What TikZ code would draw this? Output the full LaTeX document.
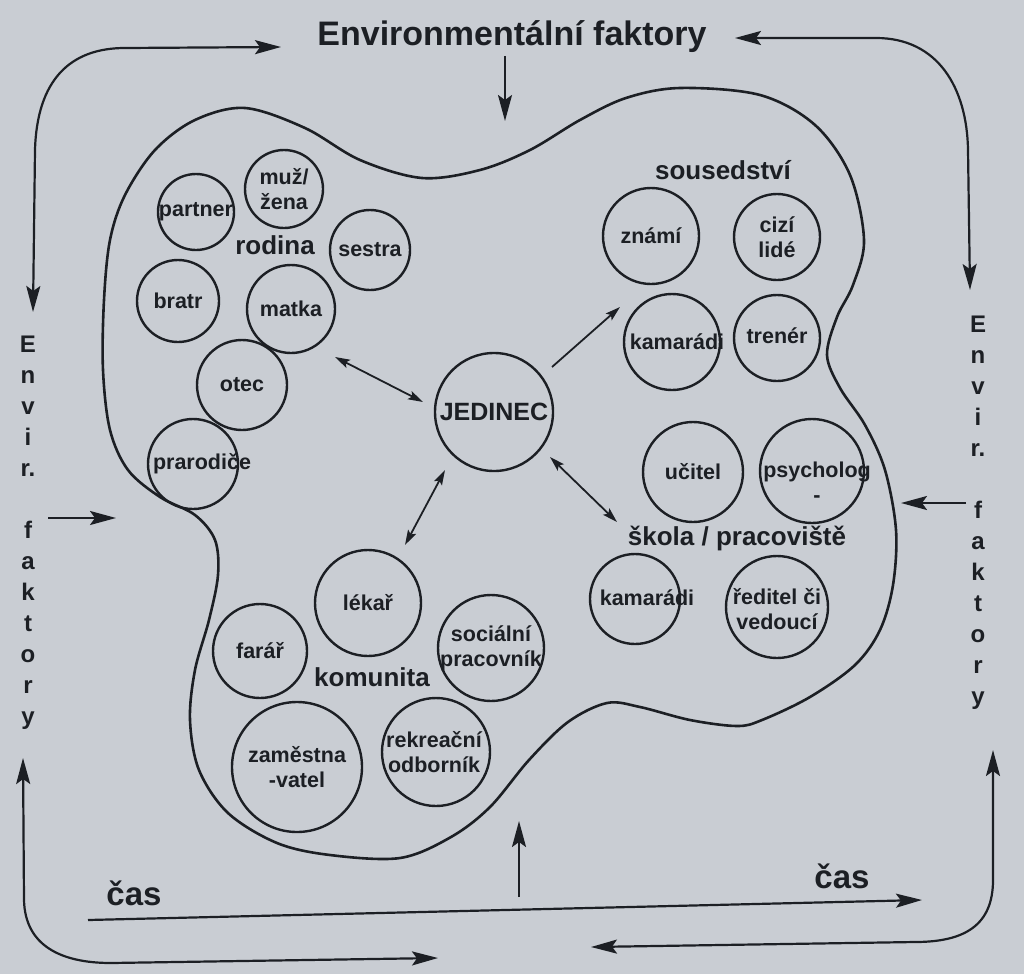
\documentclass[tikz,border=0pt]{standalone}
\usepackage{fontspec}
\setmainfont{Liberation Sans}
\usetikzlibrary{arrows.meta}
\definecolor{bg}{RGB}{201,205,211}
\definecolor{ink}{RGB}{28,31,36}
\begin{document}
\begin{tikzpicture}[x=1pt,y=-1pt,
  circ/.style={circle,draw=ink,line width=2.4pt,inner sep=0pt},
  txt/.style={align=center,inner sep=0pt,font=\bfseries\fontsize{21.5}{25}\selectfont,text=ink},
  grp/.style={font=\bfseries\fontsize{26}{30}\selectfont,text=ink,inner sep=0pt},
  side/.style={font=\bfseries\fontsize{24}{28}\selectfont,text=ink,inner sep=0pt,anchor=base},
  bigtip/.tip={Stealth[length=26pt,width=14pt,inset=5pt]},
  smtip/.tip={Stealth[length=15pt,width=9pt,inset=3pt]},
  big/.style={draw=ink,line width=2.2pt,-bigtip},
  bigboth/.style={draw=ink,line width=2.2pt,bigtip-bigtip},
  sm/.style={draw=ink,line width=1.8pt,-smtip},
  smboth/.style={draw=ink,line width=1.8pt,smtip-smtip}]
\useasboundingbox (0,0) rectangle (1024,974);
\fill[bg] (0,0) rectangle (1024,974);

% outline of the environment
\draw[ink,line width=2.6pt] plot[smooth cycle,tension=0.55] coordinates {
 (245,108) (305,128) (360,160) (422,178) (480,170) (530,150) (580,120) (626,98)
 (680,88) (760,95) (815,125) (850,175) (864,240) (853,285) (837,317) (827,355)
 (840,388) (865,425) (885,470) (896,530) (893,585) (880,630) (855,665) (810,697)
 (762,720) (737,726) (690,720) (640,707) (607,703) (568,722) (529,760) (490,807)
 (451,837) (400,858) (330,855) (277,843) (228,813) (199,770) (190,720) (195,670)
 (209,620) (218,575) (215,540) (195,515) (160,497) (128,470) (110,430) (103,370)
 (104,300) (110,240) (125,195) (155,150) (195,120)};

% title and frame arrows
\node[font=\bfseries\fontsize{34}{38}\selectfont,text=ink,inner sep=0pt] (title) at (512,37) {Environmentální faktory};
\coordinate (tA) at (505,56); \coordinate (tB) at (505,121);
\draw[big] (tA) -- (tB);
\coordinate (tl1) at (281,47); \coordinate (tl2) at (33,312);
\draw[bigboth] (tl2) -- (35,150) .. controls (37,80) and (70,48) .. (125,48) -- (tl1);
\coordinate (tr1) at (735,38); \coordinate (tr2) at (970,290);
\draw[bigboth] (tr1) -- (876,38) .. controls (938,38) and (967,88) .. (968,150) -- (tr2);
\coordinate (bl1) at (23,758); \coordinate (bl2) at (438,958);
\draw[bigboth] (bl1) -- (24,900) .. controls (25,945) and (60,963) .. (111,963) -- (bl2);
\coordinate (br1) at (993,750); \coordinate (br2) at (591,947);
\draw[bigboth] (br1) -- (993,880) .. controls (993,925) and (965,942) .. (915,942) -- (br2);
\coordinate (lA) at (48,518); \coordinate (lB) at (116,518);
\draw[big] (lA) -- (lB);
\coordinate (rA) at (966,503); \coordinate (rB) at (901,503);
\draw[big] (rA) -- (rB);
\coordinate (bA) at (519,897); \coordinate (bB) at (519,821);
\draw[big] (bA) -- (bB);
\coordinate (cA) at (88,920); \coordinate (cB) at (922,900);
\draw[big] (cA) -- (cB);
\node[grp,font=\bfseries\fontsize{33}{36}\selectfont] (cas1) at (134,893) {čas};
\node[grp,font=\bfseries\fontsize{33}{36}\selectfont] (cas2) at (842,876) {čas};

% side labels
\foreach \ch/\k in {E/0,n/1,v/2,i/3,r./4,f/6,a/7,k/8,t/9,o/10,r/11,y/12}{
  \node[side] (L\k) at (28,{352+31*\k}) {\ch};
  \node[side] (R\k) at (978,{332+31*\k}) {\ch};
}

% family
\node[circ,minimum size=76pt] (partner) at (196,212) {};
\node[txt] (partner-t) at (196,212) {partner};
\node[circ,minimum size=78pt] (muz) at (284,189) {};
\node[txt] (muz-t) at (284,189) {muž/\\žena};
\node[grp] (rodina) at (275,245) {rodina};
\node[circ,minimum size=80pt] (sestra) at (370,250) {};
\node[txt] (sestra-t) at (370,250) {sestra};
\node[circ,minimum size=82pt] (bratr) at (178,301) {};
\node[txt] (bratr-t) at (178,301) {bratr};
\node[circ,minimum size=88pt] (matka) at (291,309) {};
\node[txt] (matka-t) at (291,309) {matka};
\node[circ,minimum size=90pt] (otec) at (242,385) {};
\node[txt] (otec-t) at (242,385) {otec};
\node[circ,minimum size=90pt] (prarodice) at (193,464) {};
\node[txt] (prarodice-t) at (202,464) {prarodiče};

% individual
\node[circ,minimum size=118pt] (jedinec) at (494,412) {};
\node[txt,font=\bfseries\fontsize{25}{28}\selectfont] (jedinec-t) at (494,412) {JEDINEC};

% neighbourhood
\node[grp] (sousedstvi) at (723,170) {sousedství};
\node[circ,minimum size=96pt] (znami) at (651,236) {};
\node[txt] (znami-t) at (651,236) {známí};
\node[circ,minimum size=86pt] (cizi) at (777,237) {};
\node[txt] (cizi-t) at (777,237) {cizí\\lidé};
\node[circ,minimum size=96pt] (kamaradi1) at (672,342) {};
\node[txt] (kamaradi1-t) at (677,342) {kamarádi};
\node[circ,minimum size=86pt] (trener) at (777,338) {};
\node[txt] (trener-t) at (777,336) {trenér};

% school / work
\node[circ,minimum size=100pt] (ucitel) at (693,472) {};
\node[txt] (ucitel-t) at (693,472) {učitel};
\node[circ,minimum size=104pt] (psycholog) at (812,471) {};
\node[txt] (psycholog-t) at (817,482) {psycholog\\-};
\node[grp] (skola) at (737,538) {škola / pracoviště};
\node[circ,minimum size=90pt] (kamaradi2) at (635,599) {};
\node[txt] (kamaradi2-t) at (647,598) {kamarádi};
\node[circ,minimum size=102pt] (reditel) at (777,607) {};
\node[txt] (reditel-t) at (777,609) {ředitel či\\vedoucí};

% community
\node[circ,minimum size=106pt] (lekar) at (368,603) {};
\node[txt] (lekar-t) at (368,603) {lékař};
\node[circ,minimum size=94pt] (farar) at (260,651) {};
\node[txt] (farar-t) at (260,651) {farář};
\node[grp] (komunita) at (372,677) {komunita};
\node[circ,minimum size=106pt] (socialni) at (491,648) {};
\node[txt] (socialni-t) at (491,648) {sociální\\pracovník};
\node[circ,minimum size=130pt] (zamestnavatel) at (297,767) {};
\node[txt] (zamestnavatel-t) at (297,767) {zaměstna\\-vatel};
\node[circ,minimum size=108pt] (rekreacni) at (436,752) {};
\node[txt] (rekreacni-t) at (434,752) {rekreační\\odborník};

% links from the individual
\coordinate (m1) at (335,357); \coordinate (m2) at (423,402);
\draw[smboth] (m1) -- (m2);
\coordinate (s1) at (552,367); \coordinate (s2) at (620,307);
\draw[sm] (s1) -- (s2);
\coordinate (k1) at (550,457); \coordinate (k2) at (617,522);
\draw[smboth] (k1) -- (k2);
\coordinate (c1) at (445,470); \coordinate (c2) at (405,545);
\draw[smboth] (c1) -- (c2);
\end{tikzpicture}
\end{document}
